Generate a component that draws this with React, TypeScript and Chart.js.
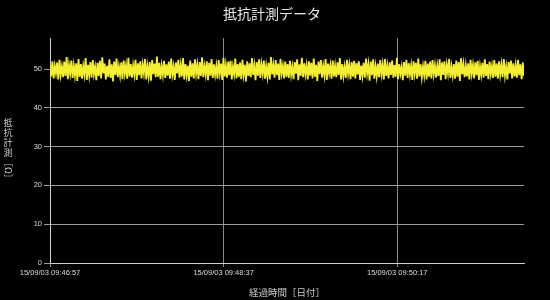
import React, { useEffect, useRef } from "react";
import { Chart, registerables } from "chart.js";

Chart.register(...registerables);

const CHART_TITLE = "抵抗計測データ";
const X_TITLE = "経過時間［日付］";
const Y_TITLE_UPRIGHT = "抵抗計測";
const Y_TITLE_UNIT = "［Ω］";

const START_TIME = { h: 9, m: 46, s: 57 };
const DATE_PREFIX = "15/09/03";
const SAMPLE_INTERVAL_S = 273 / 399;
const X_TICKS = [0, 100, 200];
const Y_MAX = 58;

const resistance: number[] = [
  51.2,48.1,52.0,47.6,50.8,48.9,51.7,47.3,52.4,48.5,50.6,47.9,51.9,48.2,53.1,47.4,51.0,48.8,52.2,47.7,
  50.9,48.3,51.5,46.9,52.6,48.0,51.3,47.5,50.7,48.6,52.8,47.2,51.1,48.4,51.8,47.8,52.3,48.7,50.5,47.1,
  51.6,48.2,52.1,47.6,53.0,48.9,51.4,47.3,50.8,48.0,52.5,47.7,51.2,46.8,51.9,48.5,52.7,47.9,50.6,48.3,
  51.7,47.4,52.2,48.8,51.0,47.5,52.9,48.1,51.3,47.8,50.9,48.6,52.4,47.2,51.5,48.4,52.0,47.6,51.1,48.9,
  52.6,47.3,50.7,48.2,51.8,47.0,52.3,48.7,51.4,47.9,53.2,48.0,51.6,47.4,50.8,48.5,52.1,47.7,51.2,48.3,
  51.9,47.5,52.7,48.6,50.6,47.2,51.7,48.9,52.4,47.8,51.0,48.1,52.8,47.3,51.3,48.4,50.9,46.9,52.2,48.0,
  51.5,47.6,52.5,48.8,51.1,47.4,51.8,48.2,53.0,47.9,50.7,48.6,52.0,47.1,51.6,48.3,52.6,47.7,51.2,48.5,
  50.8,47.5,52.3,48.9,51.4,47.2,52.9,48.1,51.0,47.8,51.9,48.4,52.1,47.3,50.6,48.7,52.7,47.6,51.3,48.0,
  51.7,47.4,52.4,48.6,51.1,46.8,52.0,48.2,51.5,47.9,52.8,48.5,50.9,47.1,51.8,48.3,52.5,47.7,51.2,48.8,
  52.2,47.5,50.7,48.1,51.6,47.3,53.1,48.6,51.0,47.8,52.3,48.4,51.4,47.2,52.6,48.9,50.8,47.6,51.9,48.0,
  51.3,47.7,52.1,48.5,50.6,47.4,51.8,48.8,52.5,47.1,51.2,48.2,52.9,47.9,51.5,48.6,50.9,47.3,52.0,48.3,
  51.6,47.6,52.7,48.0,51.1,46.9,51.9,48.7,52.3,47.8,50.7,48.4,52.6,47.2,51.4,48.9,51.0,47.5,52.2,48.1,
  50.8,47.9,51.7,48.5,52.8,47.3,51.3,48.2,50.6,47.7,52.4,48.8,51.0,47.4,51.8,48.0,52.1,47.6,51.5,48.6,
  52.0,47.2,50.9,48.3,51.6,47.8,52.7,48.9,51.2,47.0,51.9,48.4,52.5,47.5,50.7,48.1,51.4,47.9,52.3,48.7,
  51.1,47.3,52.6,48.2,50.8,47.6,51.7,48.5,52.2,47.8,51.0,48.0,52.9,47.4,51.3,48.8,50.6,47.1,51.8,48.3,
  52.4,47.7,51.5,48.6,50.9,47.2,52.0,48.9,51.6,47.5,52.7,48.1,51.2,47.9,50.7,48.4,52.1,47.3,51.4,48.0,
  51.9,47.6,52.3,48.7,51.0,47.8,50.8,48.2,52.5,47.1,51.7,48.5,52.0,47.4,51.1,48.9,52.6,47.7,50.6,48.3,
  51.3,47.5,52.2,48.0,51.8,46.9,52.8,48.6,51.2,47.9,50.9,48.1,51.5,47.3,52.4,48.8,51.0,47.6,51.7,48.4,
  52.1,47.2,50.7,48.5,51.6,47.8,52.5,48.2,51.3,47.4,51.9,48.7,50.8,47.7,52.3,48.0,51.4,47.5,52.0,48.6,
  51.1,47.9,52.6,48.3,50.6,47.3,51.8,48.9,52.2,47.6,51.5,48.1,50.9,47.8,52.4,48.4,51.2,47.4,51.7,48.2,
];

function fmtTime(sec: number): string {
  const total = START_TIME.h * 3600 + START_TIME.m * 60 + START_TIME.s + Math.round(sec);
  const h = Math.floor(total / 3600);
  const m = Math.floor((total % 3600) / 60);
  const s = total % 60;
  const p = (n: number) => String(n).padStart(2, "0");
  return `${DATE_PREFIX} ${p(h)}:${p(m)}:${p(s)}`;
}

const FONT_JP = '"Noto Sans CJK JP", "Noto Sans", sans-serif';
const FONT_TICK = '"Liberation Sans Narrow", "Liberation Sans", Arial, sans-serif';

const titlesPlugin = {
  id: "titlesPlugin",
  afterDraw(chart: any) {
    const ctx = chart.ctx as CanvasRenderingContext2D;
    const area = chart.chartArea;
    ctx.save();
    ctx.fillStyle = "#e6e6e6";
    ctx.font = `14px ${FONT_JP}`;
    ctx.textAlign = "center";
    ctx.textBaseline = "middle";
    ctx.fillText(CHART_TITLE, 272, 14);
    ctx.fillStyle = "#cccccc";
    ctx.font = `9.5px ${FONT_JP}`;
    ctx.fillText(X_TITLE, (area.left + area.right) / 2, 292);
    ctx.font = `9px ${FONT_JP}`;
    const x = 8;
    let y = 123;
    for (const ch of Y_TITLE_UPRIGHT) {
      ctx.fillText(ch, x, y);
      y += 10;
    }
    ctx.translate(x, y - 5);
    ctx.rotate(Math.PI / 2);
    ctx.textAlign = "left";
    ctx.fillText(Y_TITLE_UNIT, 0, 0);
    ctx.restore();
  },
};

export default function App() {
  const ref = useRef<HTMLCanvasElement>(null);
  useEffect(() => {
    if (!ref.current) return;
    const points = resistance.map((v, i) => ({ x: i * SAMPLE_INTERVAL_S, y: v }));
    const chart = new Chart(ref.current, {
      type: "line",
      data: {
        datasets: [
          {
            data: points,
            borderColor: "#f5ef34",
            borderWidth: 1.8,
            pointRadius: 0,
            tension: 0,
            fill: false,
          },
        ],
      },
      plugins: [titlesPlugin],
      options: {
        animation: false,
        responsive: false,
        layout: { padding: { top: 38, right: 26, left: 0, bottom: 0 } },
        plugins: { legend: { display: false }, title: { display: false }, tooltip: { enabled: false } },
        scales: {
          x: {
            type: "linear",
            min: 0,
            max: 273,
            afterBuildTicks: (scale: any) => {
              scale.ticks = X_TICKS.map((v) => ({ value: v }));
            },
            afterFit: (scale: any) => {
              scale.height = 37;
            },
            ticks: {
              color: "#dddddd",
              font: { size: 7.5, family: FONT_TICK },
              maxRotation: 0,
              autoSkip: false,
              padding: 1,
              callback: (v: any) => fmtTime(Number(v)),
            },
            grid: { color: "#8a8a8a", lineWidth: 1, tickLength: 4, drawTicks: true },
            border: { color: "#cfcfcf", width: 1 },
          },
          y: {
            min: 0,
            max: Y_MAX,
            afterFit: (scale: any) => {
              scale.width = 50;
            },
            ticks: {
              stepSize: 10,
              includeBounds: false,
              color: "#dddddd",
              font: { size: 7.5, family: FONT_TICK },
              padding: 2,
            },
            grid: { color: "#9a9a9a", lineWidth: 1, tickLength: 6 },
            border: { color: "#cfcfcf", width: 1 },
          },
        },
      },
    } as any);
    return () => chart.destroy();
  }, []);
  return (
    <div style={{ position: "absolute", left: 0, top: 0, width: 550, height: 300, background: "#000" }}>
      <canvas ref={ref} width={550} height={300} style={{ display: "block" }} />
    </div>
  );
}
